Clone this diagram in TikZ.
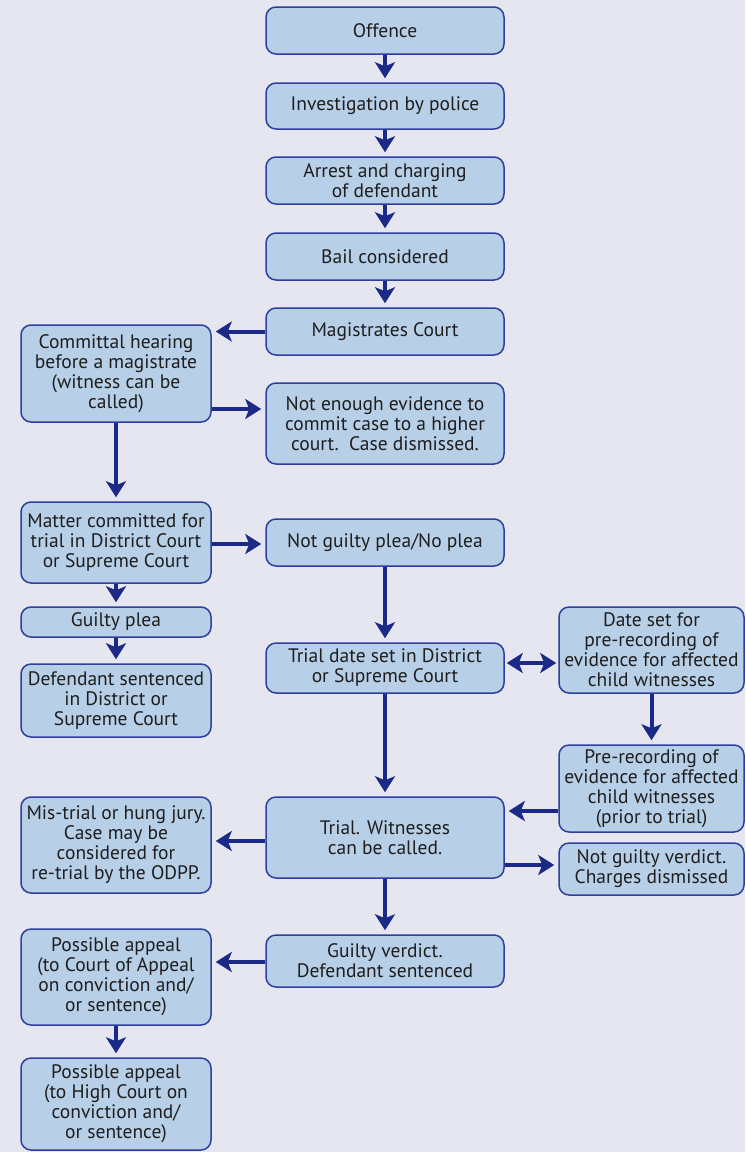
\documentclass[tikz,border=0pt]{standalone}
\usepackage{fontspec}
\setmainfont{PT Sans}
\usetikzlibrary{arrows.meta}
\definecolor{bgc}{HTML}{E6E6F0}
\definecolor{boxfill}{HTML}{B7CFE7}
\definecolor{boxdraw}{HTML}{2F3F9E}
\definecolor{arrc}{HTML}{1B2A86}
\definecolor{txt}{HTML}{1E1E1E}
\tikzset{
  box/.style={draw=boxdraw, fill=boxfill, line width=1.5pt, rounded corners=10pt,
    inner xsep=2pt, inner ysep=0pt, align=center, text=txt,
    font=\fontsize{19.5}{20}\selectfont},
  lbox/.style={box, minimum width=190pt},
  mbox/.style={box, minimum width=238pt},
  rbox/.style={box, minimum width=185pt},
  arr/.style={draw=arrc, line width=4pt, shorten >=4pt,
    -{Stealth[length=16pt,width=20pt,inset=4pt]}},
  dbl/.style={draw=arrc, line width=4pt, shorten >=2pt, shorten <=2pt,
    {Stealth[length=16pt,width=20pt,inset=4pt]}-{Stealth[length=16pt,width=20pt,inset=4pt]}}
}
\begin{document}
\begin{tikzpicture}[x=1pt,y=-1pt]
\useasboundingbox (0,0) rectangle (745,1152);
\fill[bgc] (0,0) rectangle (745,1152);

\node[mbox, minimum height=47pt] (off) at (385,30.5) {Offence};
\node[mbox, minimum height=46pt] (inv) at (385,106) {Investigation by police};
\node[mbox, minimum height=47pt] (arrest) at (385,180.5) {Arrest and charging\\of defendant};
\node[mbox, minimum height=47pt] (bail) at (385,256.5) {Bail considered};
\node[mbox, minimum height=47pt] (mag) at (385,331.5) {Magistrates Court};
\node[lbox, minimum height=97pt] (com) at (116,373.5) {Committal hearing\\before a magistrate\\(witness can be\\called)};
\node[mbox, minimum height=81pt] (ne) at (385,423.5) {Not enough evidence to\\commit case to a higher\\court.\ \ Case dismissed.};
\node[lbox, minimum height=81pt] (mat) at (116,542.5) {Matter committed for\\trial in District Court\\or Supreme Court};
\node[mbox, minimum height=47pt] (ngp) at (385,542.5) {Not guilty plea/No plea};
\node[lbox, minimum height=30pt] (gp) at (116,622) {Guilty plea};
\node[lbox, minimum height=73pt] (ds) at (116,700.5) {Defendant sentenced\\in District or\\Supreme Court};
\node[mbox, minimum height=50pt] (td) at (385,668) {Trial date set in District\\or Supreme Court};
\node[rbox, minimum height=86pt] (dset) at (651.5,650) {Date set for\\pre-recording of\\evidence for affected\\child witnesses};
\node[rbox, minimum height=87pt] (pre) at (651.5,788.5) {Pre-recording of\\evidence for affected\\child witnesses\\(prior to trial)};
\node[rbox, minimum height=52pt] (ngv) at (651.5,869) {Not guilty verdict.\\Charges dismissed};
\node[mbox, minimum height=81pt] (tri) at (385,837.5) {Trial. Witnesses\\can be called.};
\node[lbox, minimum height=96pt] (mis) at (116,845) {Mis-trial or hung jury.\\Case may be\\considered for\\re-trial by the ODPP.};
\node[mbox, minimum height=52pt] (gv) at (385,961) {Guilty verdict.\\Defendant sentenced};
\node[lbox, minimum height=96pt] (ap1) at (116,977) {Possible appeal\\(to Court of Appeal\\on conviction and/\\or sentence)};
\node[lbox, minimum height=92pt] (ap2) at (116,1104) {Possible appeal\\(to High Court on\\conviction and/\\or sentence)};

\draw[arr] (off) -- (inv);
\draw[arr] (inv) -- (arrest);
\draw[arr] (arrest) -- (bail);
\draw[arr] (bail) -- (mag);
\draw[arr] (mag.west) -- (mag.west -| com.east);
\draw[arr] (com.east |- 0,409) -- (ne.west |- 0,409);
\draw[arr] (com) -- (mat);
\draw[arr] (mat.east |- 0,544) -- (ngp.west |- 0,544);
\draw[arr] (mat) -- (gp);
\draw[arr] (gp) -- (ds);
\draw[arr] (ngp) -- (td);
\draw[dbl] (td.east |- 0,663) -- (dset.west |- 0,663);
\draw[arr] (dset) -- (pre);
\draw[arr] (td) -- (tri);
\draw[arr] (pre.west |- 0,811) -- (tri.east |- 0,811);
\draw[arr] (tri.west |- 0,841) -- (mis.east |- 0,841);
\draw[arr] (tri.east |- 0,865) -- (ngv.west |- 0,865);
\draw[arr] (tri) -- (gv);
\draw[arr] (gv.west |- 0,962) -- (ap1.east |- 0,962);
\draw[arr] (ap1) -- (ap2);
\end{tikzpicture}
\end{document}
